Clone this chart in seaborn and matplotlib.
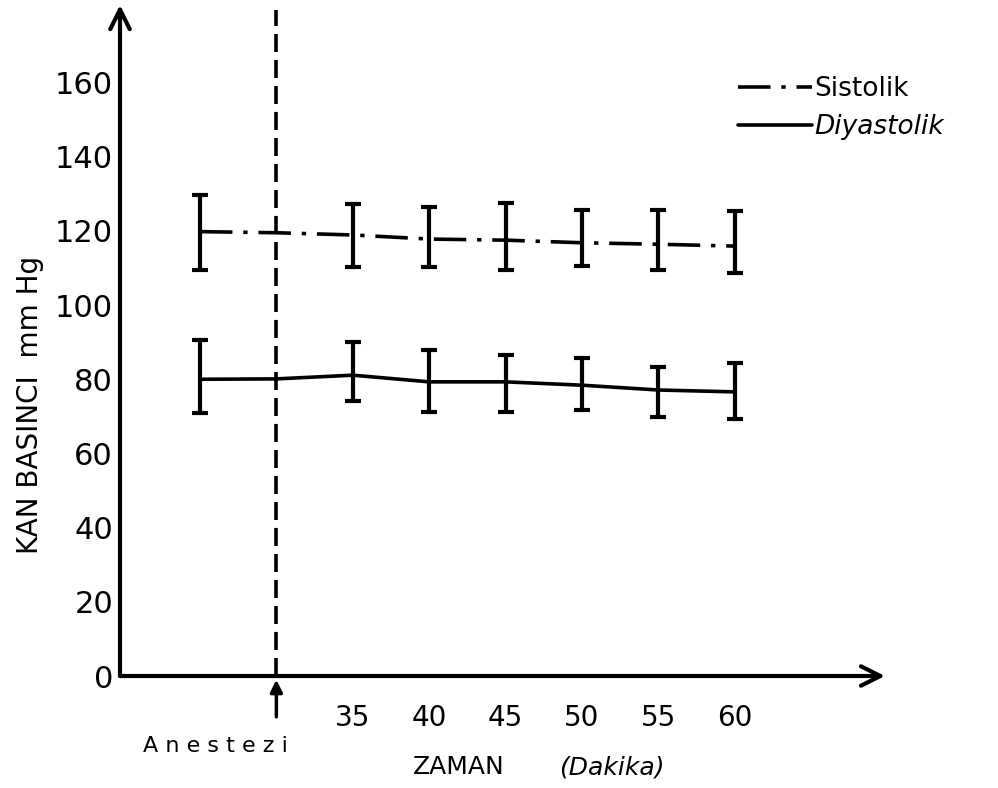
import matplotlib
matplotlib.use("Agg")
import matplotlib.pyplot as plt
import seaborn as sns
import pandas as pd
import numpy as np

# ---- data ----
time_min = [25, 30, 35, 40, 45, 50, 55, 60]
sistolik = [119.8, 119.5, 118.9, 117.8, 117.5, 116.8, 116.4, 115.9]
diyastolik = [80.0, 80.1, 81.1, 79.3, 79.3, 78.4, 77.1, 76.6]
# error bar ends (no bar at 30 = anaesthesia)
err_time = [25, 35, 40, 45, 50, 55, 60]
sis_low = [109.4, 110.2, 110.2, 109.4, 110.5, 109.4, 108.6]
sis_high = [129.6, 127.2, 126.5, 127.5, 125.6, 125.6, 125.4]
dia_low = [70.9, 74.2, 71.2, 71.2, 71.7, 69.9, 69.2]
dia_high = [90.6, 90.0, 87.9, 86.5, 85.7, 83.4, 84.4]
anestezi_time = 30
x_ticks = [35, 40, 45, 50, 55, 60]
y_ticks = [0, 20, 40, 60, 80, 100, 120, 140, 160]

sns.set_style("white")
plt.rcParams['font.family'] = ['DejaVu Sans']
plt.rcParams['text.color'] = 'black'
plt.rcParams['axes.labelcolor'] = 'black'
plt.rcParams['xtick.color'] = 'black'
plt.rcParams['ytick.color'] = 'black'

fig = plt.figure(figsize=(9.98, 7.88), dpi=100)
ax = fig.add_axes([120/998, 112/788, 765/998, 671/788])
ax.set_xlim(19.77, 69.82)
ax.set_ylim(0, 180.9)

df = pd.DataFrame({"t": time_min, "Sistolik": sistolik, "Diyastolik": diyastolik})

sns.lineplot(data=df, x="t", y="Sistolik", ax=ax, color="black", lw=2.6,
             label="Sistolik")
ax.lines[-1].set_dashes((9, 3, 1.2, 3))
sns.lineplot(data=df, x="t", y="Diyastolik", ax=ax, color="black", lw=2.6,
             label="Diyastolik")

# error bars
sis_mid = [sistolik[time_min.index(t)] for t in err_time]
dia_mid = [diyastolik[time_min.index(t)] for t in err_time]
for mid, lo, hi in [(sis_mid, sis_low, sis_high), (dia_mid, dia_low, dia_high)]:
    mid = np.array(mid); lo = np.array(lo); hi = np.array(hi)
    ax.errorbar(err_time, mid, yerr=[mid - lo, hi - mid], fmt="none",
                ecolor="black", elinewidth=3, capsize=6, capthick=3)

# anaesthesia dashed line
ax.axvline(anestezi_time, ymin=0, ymax=(676-10)/671, color="black", lw=2.6,
           linestyle=(0, (5, 2.2)))

# axes with arrows
for s in ["top", "right", "left", "bottom"]:
    ax.spines[s].set_visible(False)
ax.annotate("", xy=(1.0, 0), xytext=(0, 0), xycoords="axes fraction",
            arrowprops=dict(arrowstyle="->", lw=3, color="black", mutation_scale=35,
                            shrinkA=0, shrinkB=0))
ax.annotate("", xy=(0, 1.0), xytext=(0, 0), xycoords="axes fraction",
            arrowprops=dict(arrowstyle="->", lw=3, color="black", mutation_scale=35,
                            shrinkA=0, shrinkB=0))

ax.set_xticks(x_ticks)
ax.set_xticklabels([str(v) for v in x_ticks], fontsize=20)
ax.set_yticks(y_ticks)
ax.set_yticklabels([str(v) for v in y_ticks], fontsize=22)
ax.tick_params(axis="x", length=4, width=2, direction="in", pad=20)
ax.tick_params(axis="y", length=0, pad=5)
ax.set_xlabel("")
ax.set_ylabel("")

# y label
fig.text(30/998, 1 - 405/788, "KAN BASINCI  mm Hg", rotation=90, fontsize=20,
         ha="center", va="center")
# x label
fig.text(459/998, 1 - 767/788, "ZAMAN", fontsize=18, ha="center", va="center")
fig.text(612/998, 1 - 767/788, "(Dakika)", fontsize=18, ha="center", va="center",
         style="italic")
# Anestezi with arrow
fig.text(215/998, 1 - 746/788, "A n e s t e z i", fontsize=16, ha="center", va="center")
ax.annotate("", xy=(anestezi_time, -1), xycoords="data",
            xytext=(anestezi_time, -11), textcoords="data",
            arrowprops=dict(arrowstyle="-|>", lw=2.5, color="black", mutation_scale=18,
                            shrinkA=0, shrinkB=0), annotation_clip=False)

# legend
leg = ax.legend(loc="upper left", frameon=False, fontsize=19,
                handlelength=2.8, handletextpad=0.1, labelspacing=0.45,
                borderaxespad=0, borderpad=0)
leg.get_texts()[1].set_style("italic")
leg.set_bbox_to_anchor(((738-120)/765, (676-76)/671), transform=ax.transAxes)

fig.savefig("out.png", dpi=100, facecolor="white")
